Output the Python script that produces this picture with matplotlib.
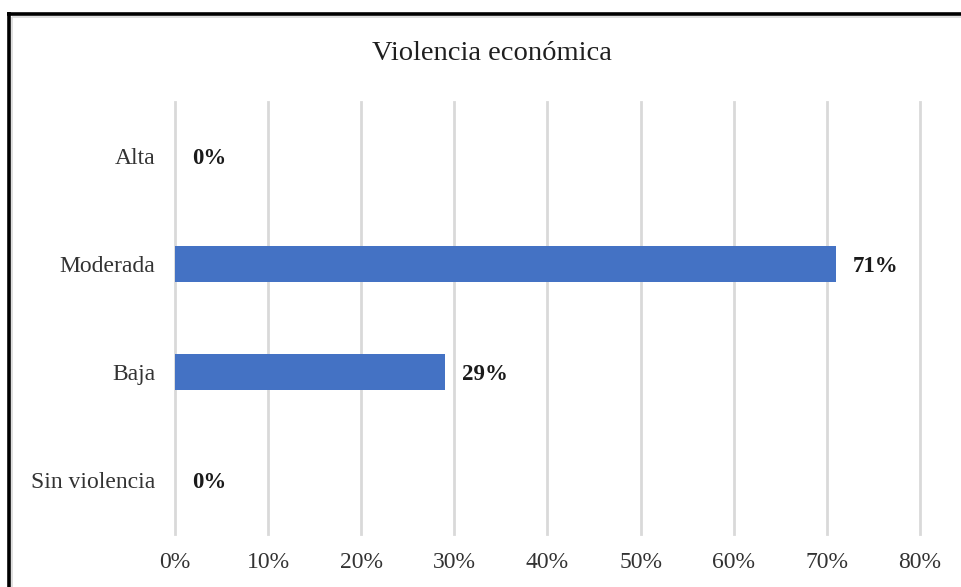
import matplotlib.pyplot as plt
from matplotlib.lines import Line2D
from matplotlib.ticker import FuncFormatter

categorias = ['Sin violencia', 'Baja', 'Moderada', 'Alta']
porcentajes = [0, 29, 71, 0]
ticks_x = [0, 10, 20, 30, 40, 50, 60, 70, 80]

plt.rcParams['font.family'] = ['Liberation Serif', 'DejaVu Serif']

fig = plt.figure(figsize=(9.62, 5.87), dpi=100)
ax = fig.add_axes([0.1819, 0.0903, 0.9563 - 0.1819, 0.8262 - 0.0903])

y_pos = range(len(categorias))
ax.barh(y_pos, porcentajes, height=0.34, color='#4472C4', zorder=3)

for y, v in zip(y_pos, porcentajes):
    ax.annotate('%d%%' % v, (v, y), xytext=(12, -1.5), textcoords='offset points',
                ha='left', va='center', fontsize=16.5, fontweight='bold', color='#1a1a1a')

ax.set_xlim(0, 80)
ax.set_ylim(-0.5, 3.5)
ax.set_xticks(ticks_x)
ax.xaxis.set_major_formatter(FuncFormatter(lambda v, p: '%d%%' % v))
ax.set_yticks(list(y_pos))
ax.set_yticklabels(categorias)
ax.tick_params(axis='x', length=0, pad=13, labelsize=17, labelcolor='#333333')
ax.tick_params(axis='y', length=0, pad=14, labelsize=17, labelcolor='#333333')
ax.grid(axis='x', color='#d9d9d9', linewidth=2, zorder=0)
for g in ax.get_xgridlines():
    g.set_clip_on(False)
for s in ax.spines.values():
    s.set_visible(False)

fig.text(0.5 * (368 + 615) / 962, 1 - 54 / 587, 'Violencia económica', ha='center', va='center',
         fontsize=20.5, color='#1f1f1f')

# marco exterior
fig.add_artist(Line2D([7 / 962, 1], [1 - 13.5 / 587, 1 - 13.5 / 587], color='black',
                      linewidth=2.6, solid_capstyle='butt'))
fig.add_artist(Line2D([8.5 / 962, 8.5 / 962], [0, 1 - 12 / 587], color='black',
                      linewidth=2.6, solid_capstyle='butt'))
fig.add_artist(Line2D([11.5 / 962, 1], [1 - 16.5 / 587, 1 - 16.5 / 587], color='#d9d9d9',
                      linewidth=1.2, solid_capstyle='butt'))
fig.add_artist(Line2D([11.5 / 962, 11.5 / 962], [0, 1 - 16.5 / 587], color='#d9d9d9',
                      linewidth=1.2, solid_capstyle='butt'))

fig.savefig('out.png', dpi=100)
